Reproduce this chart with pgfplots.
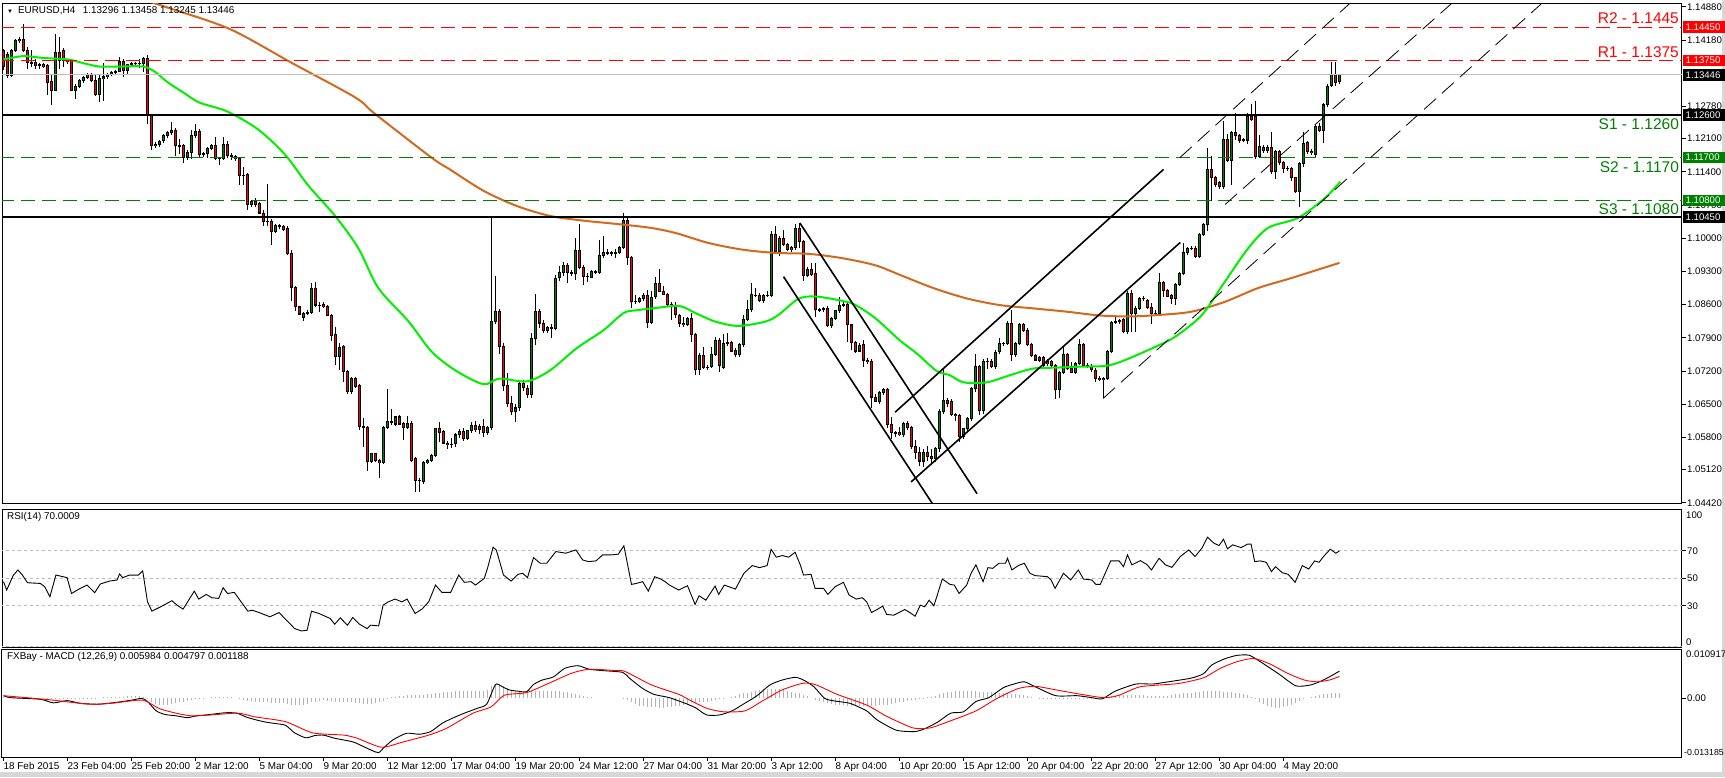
\documentclass[border=0pt]{standalone}
\usepackage{pgfplots}
\pgfplotsset{compat=1.18}
\usepackage{pgfplotstable}
\usepackage{fontspec}
\setmainfont{Liberation Sans}
\definecolor{upg}{RGB}{0,128,0}
\definecolor{dnr}{RGB}{255,0,0}
\definecolor{ma50}{RGB}{0,240,0}
\definecolor{ma200}{RGB}{210,105,30}
\definecolor{sgreen}{RGB}{0,128,0}
\definecolor{silverc}{RGB}{192,192,192}
\definecolor{frameg}{RGB}{215,215,215}

% candles in pips above 1.0000 : open high low close
\pgfplotstableread[row sep=\\]{
o h l c\\
1396 1400 1355 1362\\ 1388 1392 1338 1343\\ 1343 1400 1340 1396\\ 1396 1420 1392 1417\\ 1417 1424 1412 1420\\
1420 1451 1393 1396\\ 1396 1403 1356 1371\\ 1371 1396 1360 1370\\ 1370 1378 1356 1365\\ 1365 1370 1356 1366\\
1366 1370 1358 1361\\ 1364 1368 1301 1328\\ 1331 1345 1280 1312\\ 1312 1430 1310 1392\\ 1392 1424 1356 1375\\
1396 1402 1362 1375\\ 1375 1378 1368 1372\\ 1375 1378 1310 1312\\ 1312 1325 1293 1320\\ 1320 1336 1316 1333\\
1333 1342 1328 1338\\ 1338 1348 1335 1345\\ 1345 1348 1330 1333\\ 1333 1345 1300 1303\\ 1303 1345 1288 1336\\
1336 1369 1290 1340\\ 1340 1348 1336 1345\\ 1345 1352 1342 1350\\ 1350 1355 1347 1352\\ 1352 1382 1350 1373\\
1373 1378 1340 1354\\ 1354 1368 1345 1366\\ 1366 1372 1360 1368\\ 1368 1372 1364 1369\\ 1369 1378 1358 1368\\
1368 1383 1350 1380\\ 1380 1386 1240 1258\\ 1258 1262 1185 1195\\ 1195 1202 1190 1198\\ 1198 1208 1192 1205\\
1205 1220 1200 1216\\ 1216 1226 1212 1223\\ 1223 1246 1218 1228\\ 1228 1232 1174 1195\\ 1195 1210 1178 1195\\
1195 1198 1159 1170\\ 1170 1185 1165 1180\\ 1180 1228 1168 1216\\ 1216 1240 1212 1225\\ 1225 1230 1172 1176\\
1176 1182 1172 1178\\ 1178 1192 1170 1189\\ 1189 1198 1185 1195\\ 1195 1213 1165 1168\\ 1168 1172 1155 1169\\
1169 1213 1165 1197\\ 1197 1204 1170 1174\\ 1174 1180 1165 1172\\ 1172 1176 1162 1168\\ 1168 1172 1113 1132\\
1132 1150 1112 1133\\ 1134 1138 1060 1070\\ 1070 1080 1065 1077\\ 1077 1085 1066 1071\\ 1073 1076 1050 1053\\
1053 1060 1026 1036\\ 1036 1115 1026 1035\\ 1035 1040 986 1015\\ 1015 1030 1010 1026\\ 1026 1030 1020 1024\\
1024 1027 1016 1019\\ 1021 1025 965 967\\ 967 975 867 897\\ 897 900 846 855\\ 855 858 838 840\\
832 845 825 842\\ 842 848 838 843\\ 843 905 840 893\\ 893 907 855 859\\ 859 866 845 859\\
861 866 852 855\\ 857 860 835 837\\ 837 840 783 795\\ 797 812 732 751\\ 751 780 722 770\\
772 775 696 719\\ 719 722 672 677\\ 677 708 672 704\\ 704 708 684 687\\ 690 693 596 602\\
602 620 560 602\\ 600 604 509 529\\ 529 548 526 546\\ 546 548 528 531\\ 531 535 495 527\\
527 604 524 600\\ 600 683 598 613\\ 613 640 606 612\\ 608 626 604 623\\ 623 628 605 608\\
610 612 574 600\\ 600 625 598 610\\ 610 614 528 531\\ 535 538 465 488\\ 490 494 464 490\\
486 530 482 527\\ 527 535 524 531\\ 531 545 528 541\\ 541 600 538 598\\ 598 612 570 590\\
592 596 565 568\\ 568 572 556 564\\ 564 578 558 566\\ 566 590 560 585\\ 585 598 578 592\\
592 600 572 578\\ 578 596 574 594\\ 594 612 590 606\\ 606 614 592 596\\ 596 608 586 603\\
603 618 580 590\\ 590 604 585 600\\ 600 1045 596 825\\ 825 920 818 846\\ 846 850 755 772\\
772 778 677 690\\ 690 715 645 652\\ 652 668 628 634\\ 634 650 612 642\\ 642 698 636 694\\
694 700 678 684\\ 684 690 662 670\\ 670 800 664 789\\ 789 882 775 846\\ 846 850 810 821\\
821 828 800 806\\ 806 815 800 812\\ 812 818 790 810\\ 810 922 806 916\\ 916 942 910 927\\
927 950 920 942\\ 942 948 905 927\\ 927 932 920 926\\ 926 1001 912 975\\ 975 1030 935 939\\
939 944 902 920\\ 920 926 908 920\\ 918 932 915 929\\ 929 933 925 930\\ 927 996 925 963\\
963 1004 958 969\\ 969 978 964 970\\ 969 974 963 970\\ 970 978 958 969\\ 969 984 966 981\\
981 1054 978 1037\\ 1037 1045 943 960\\ 960 963 852 867\\ 867 880 862 867\\ 867 876 864 872\\
872 884 868 880\\ 880 890 810 822\\ 822 888 818 876\\ 876 918 872 904\\ 904 935 886 888\\
888 900 880 882\\ 882 885 858 860\\ 860 866 828 858\\ 858 865 832 838\\ 838 840 812 821\\
821 834 812 818\\ 818 834 815 831\\ 831 842 781 797\\ 797 800 712 722\\ 722 758 711 752\\
752 770 724 727\\ 727 732 722 728\\ 729 770 726 755\\ 755 792 752 784\\ 784 790 718 731\\
727 798 724 778\\ 778 800 772 780\\ 780 784 760 762\\ 764 768 750 754\\ 754 778 750 775\\
775 838 770 828\\ 828 870 825 849\\ 849 905 845 881\\ 880 896 876 880\\ 880 884 866 868\\
868 882 864 880\\ 880 889 875 879\\ 879 1015 876 1008\\ 1008 1025 968 972\\ 972 1004 962 1000\\
1000 1018 984 986\\ 986 990 972 976\\ 976 984 970 980\\ 980 1030 976 1020\\ 1020 1032 980 993\\
993 996 909 921\\ 921 940 918 935\\ 935 947 920 923\\ 926 947 833 849\\ 849 852 845 849\\
849 855 845 851\\ 851 856 813 815\\ 815 833 810 831\\ 831 849 828 847\\ 847 877 843 859\\
859 866 855 860\\ 860 864 782 817\\ 817 820 764 780\\ 780 783 758 762\\ 762 778 760 773\\
775 785 728 743\\ 743 748 735 740\\ 741 746 641 665\\ 665 672 654 656\\ 656 678 650 674\\
674 684 670 680\\ 680 684 600 607\\ 607 623 577 590\\ 590 594 580 590\\ 590 602 582 586\\
586 612 580 609\\ 609 614 595 600\\ 600 604 556 560\\ 560 575 535 548\\ 548 560 520 530\\
530 555 518 548\\ 548 562 530 540\\ 540 555 522 535\\ 535 560 528 556\\ 556 640 550 635\\
635 725 630 658\\ 658 662 645 651\\ 655 660 625 628\\ 628 632 615 625\\ 626 630 570 581\\
581 600 576 598\\ 598 623 594 620\\ 620 686 615 683\\ 683 755 676 729\\ 729 733 628 636\\
636 745 630 740\\ 740 748 725 741\\ 741 745 726 729\\ 729 765 725 760\\ 760 790 755 778\\
778 782 772 778\\ 778 825 775 820\\ 820 849 741 755\\ 755 782 750 778\\ 778 822 775 818\\
818 822 802 806\\ 806 810 772 775\\ 775 778 750 752\\ 752 755 740 743\\ 743 752 738 748\\
748 752 728 732\\ 735 745 730 740\\ 740 744 728 731\\ 731 735 660 681\\ 681 720 664 717\\
717 772 714 754\\ 754 758 722 725\\ 725 738 715 717\\ 717 738 714 735\\ 735 788 732 776\\
776 780 728 731\\ 731 736 726 730\\ 729 734 718 722\\ 722 726 697 704\\ 704 710 698 701\\
701 708 662 704\\ 704 765 700 761\\ 761 826 758 823\\ 823 834 820 824\\ 824 830 818 826\\
828 832 800 803\\ 803 888 797 884\\ 884 890 803 842\\ 842 858 803 852\\ 852 875 848 873\\
873 878 868 873\\ 868 872 850 854\\ 854 863 820 842\\ 842 848 835 842\\ 842 926 838 907\\
907 910 876 889\\ 889 892 875 877\\ 879 882 862 872\\ 872 905 859 903\\ 903 928 900 926\\
926 990 922 969\\ 969 982 965 979\\ 979 984 975 979\\ 979 983 958 962\\ 962 1010 958 1007\\
1007 1032 1004 1029\\ 1029 1190 1015 1145\\ 1145 1173 1078 1128\\ 1128 1132 1108 1113\\ 1117 1120 1103 1108\\
1108 1247 1104 1209\\ 1209 1220 1160 1163\\ 1163 1226 1113 1223\\ 1223 1265 1208 1216\\ 1216 1220 1200 1207\\
1207 1212 1202 1209\\ 1207 1265 1198 1256\\ 1256 1283 1248 1251\\ 1256 1290 1168 1173\\ 1173 1218 1170 1194\\
1192 1196 1180 1185\\ 1185 1196 1180 1192\\ 1192 1225 1135 1141\\ 1141 1186 1125 1182\\ 1182 1186 1155 1159\\
1159 1162 1138 1147\\ 1147 1152 1142 1147\\ 1147 1150 1121 1128\\ 1128 1130 1095 1098\\ 1098 1160 1065 1157\\
1157 1223 1150 1199\\ 1201 1206 1178 1183\\ 1183 1188 1175 1180\\ 1177 1238 1172 1235\\ 1235 1242 1225 1228\\
1228 1285 1200 1281\\ 1281 1325 1276 1321\\ 1321 1371 1318 1345\\ 1345 1371 1322 1329\\ 1330 1346 1325 1345\\
}\candles

% MACD histogram, units of 0.001, one value per bar
\pgfplotstableread[row sep=\\]{
h\\
0.2\\0.2\\0.2\\0.2\\0.2\\0.1\\0.1\\0.1\\0.0\\0.0\\
-0.1\\-0.2\\-0.3\\-0.2\\-0.1\\-0.1\\-0.2\\-0.2\\-0.3\\-0.2\\
-0.2\\-0.2\\-0.1\\-0.1\\0.0\\0.1\\0.2\\0.2\\0.3\\0.3\\
0.3\\0.4\\0.4\\0.4\\0.4\\0.3\\-0.3\\-0.9\\-1.3\\-1.6\\
-1.6\\-1.5\\-1.3\\-1.2\\-1.0\\-0.9\\-0.7\\-0.5\\-0.3\\-0.2\\
-0.1\\0.0\\0.1\\0.1\\0.2\\0.2\\0.2\\0.1\\0.0\\-0.2\\
-0.4\\-0.6\\-0.7\\-0.8\\-0.9\\-1.0\\-1.0\\-1.1\\-1.1\\-1.2\\
-1.2\\-1.3\\-1.5\\-1.6\\-1.6\\-1.6\\-1.3\\-1.0\\-0.8\\-0.6\\
-0.5\\-0.6\\-0.7\\-0.8\\-0.8\\-0.9\\-1.0\\-1.0\\-1.1\\-1.2\\
-1.3\\-1.3\\-1.3\\-1.2\\-1.0\\-0.6\\-0.2\\0.1\\0.3\\0.4\\
0.5\\0.6\\0.6\\0.6\\0.6\\0.7\\0.8\\0.9\\1.1\\1.2\\
1.3\\1.4\\1.4\\1.5\\1.5\\1.5\\1.5\\1.6\\1.6\\1.6\\
1.6\\1.8\\2.6\\3.0\\2.9\\2.6\\2.2\\1.8\\1.6\\1.5\\
1.4\\1.4\\1.5\\1.5\\1.6\\1.6\\1.6\\1.5\\1.5\\1.5\\
1.4\\1.3\\1.1\\0.9\\0.6\\0.4\\0.2\\0.1\\0.0\\0.0\\
0.0\\0.0\\0.0\\0.0\\0.0\\-0.1\\-0.5\\-1.0\\-1.4\\-1.7\\
-1.9\\-2.0\\-2.1\\-2.1\\-2.2\\-2.2\\-2.1\\-2.0\\-1.9\\-1.7\\
-1.5\\-1.3\\-1.2\\-1.1\\-1.0\\-0.9\\-0.8\\-0.6\\-0.4\\-0.3\\
-0.2\\0.0\\0.2\\0.5\\0.8\\1.0\\1.2\\1.4\\1.6\\1.8\\
1.9\\2.0\\2.0\\2.0\\1.9\\1.8\\1.6\\1.4\\1.2\\1.0\\
0.7\\0.4\\0.0\\-0.4\\-0.7\\-1.0\\-1.2\\-1.4\\-1.5\\-1.6\\
-1.6\\-1.7\\-1.7\\-1.8\\-1.8\\-1.8\\-1.8\\-1.7\\-1.7\\-1.6\\
-1.6\\-1.5\\-1.4\\-1.2\\-1.0\\-0.8\\-0.6\\-0.5\\-0.4\\-0.3\\
-0.1\\0.1\\0.3\\0.5\\0.8\\1.1\\1.3\\1.4\\1.5\\1.5\\
1.5\\1.5\\1.5\\1.5\\1.4\\1.4\\1.4\\1.3\\1.3\\1.2\\
1.1\\1.0\\0.9\\0.8\\0.7\\0.6\\0.4\\0.2\\0.0\\-0.1\\
-0.2\\-0.3\\-0.3\\-0.3\\-0.3\\-0.3\\-0.3\\-0.3\\-0.2\\-0.2\\
-0.2\\-0.2\\-0.2\\-0.1\\-0.1\\-0.1\\0.2\\0.4\\0.5\\0.6\\
0.6\\0.6\\0.6\\0.6\\0.6\\0.6\\0.5\\0.5\\0.5\\0.5\\
0.4\\0.5\\0.6\\0.8\\0.9\\1.0\\1.1\\1.2\\1.3\\1.4\\
1.5\\1.5\\1.5\\1.5\\1.5\\1.4\\1.4\\1.3\\1.2\\1.1\\
0.9\\0.6\\0.2\\-0.3\\-0.8\\-1.3\\-1.7\\-2.0\\-2.2\\-2.2\\
-2.1\\-1.9\\-1.6\\-1.2\\-0.7\\-0.3\\0.0\\0.3\\0.5\\0.7\\
0.8\\0.9\\1.0\\1.1\\1.188\\
}\hist

\pgfplotsset{
  mtpanel/.style={
    scale only axis, width=1680pt, anchor=north west,
    xmin=-0.375, xmax=419.625,
    axis line style={black, line width=1pt},
    xtick=\empty, ytick pos=right, yticklabel pos=right,
    tick align=outside, major tick length=4pt,
    tick style={black, line width=0.8pt},
    yticklabel style={font=\fontsize{9.6}{10}\selectfont, inner sep=1pt},
    scaled ticks=false, clip mode=individual,
  },
  candlewick/.style={draw=none, forget plot, error bars/.cd, y dir=both, y explicit, error mark=none,
    error bar style={draw=black, line width=1pt}},
}
\newcommand{\lbl}{\fontsize{9.6}{10}\selectfont}
\newcommand{\hdr}{\fontsize{9.9}{10.5}\selectfont}
\tikzset{pbox/.style={anchor=west, fill=#1, text=white, font=\lbl, inner xsep=2.5pt, inner ysep=0pt, text width=36.5pt, minimum height=11.5pt, xshift=1pt}}

\begin{document}
\begin{tikzpicture}[x=1pt,y=1pt]
\useasboundingbox (0,0) rectangle (1725,-777);
\fill[white] (0,0) rectangle (1725,-777);
\fill[frameg] (0,-772) rectangle (1725,-777);
\fill[frameg] (1722,0) rectangle (1725,-777);

% ================= PRICE PANEL =================
\begin{axis}[mtpanel, at={(2pt,-3pt)}, height=500pt,
  ymin=441.5, ymax=1496,
  ytick={442,512,580,650,720,790,860,930,1000,1070,1140,1210,1278,1418,1488},
  yticklabels={1.04420,1.05120,1.05800,1.06500,1.07200,1.07900,1.08600,1.09300,1.10000,1.10700,1.11400,1.12100,1.12780,1.14180,1.14880}]
% wicks
\addplot[candlewick] table[x expr=\coordindex, y expr={(\thisrow{h}+\thisrow{l})/2}, y error expr={(\thisrow{h}-\thisrow{l})/2}] {\candles};
% body outlines
\addplot[draw=none, forget plot, error bars/.cd, y dir=both, y explicit, error mark=none,
    error bar style={draw=black, line width=3.4pt}]
  table[x expr=\coordindex, y expr={(\thisrow{o}+\thisrow{c})/2}, y error expr={abs(\thisrow{c}-\thisrow{o})/2+1}] {\candles};
% bullish bodies
\addplot[draw=none, forget plot, restrict y to domain=0:2000, error bars/.cd, y dir=both, y explicit, error mark=none,
    error bar style={draw=upg, line width=1.5pt}]
  table[x expr=\coordindex, y expr={(\thisrow{o}+\thisrow{c})/2+5000*(\thisrow{c}<\thisrow{o})}, y error expr={max(abs(\thisrow{c}-\thisrow{o})/2-1.2,0)}] {\candles};
% bearish bodies
\addplot[draw=none, forget plot, restrict y to domain=0:2000, error bars/.cd, y dir=both, y explicit, error mark=none,
    error bar style={draw=dnr, line width=1.5pt}]
  table[x expr=\coordindex, y expr={(\thisrow{o}+\thisrow{c})/2+5000*(\thisrow{c}>=\thisrow{o})}, y error expr={max(abs(\thisrow{c}-\thisrow{o})/2-1.2,0)}] {\candles};

% moving averages
\addplot[ma200, line width=2pt, smooth] coordinates {
(25,1530) (40.8,1487) (56.6,1441) (72,1370) (87.9,1297) (92.9,1262) (107,1170) (111.6,1145) (120,1100)
(128.3,1068) (136.6,1047) (145,1037) (153.3,1030) (161.6,1022) (168,1011) (176.2,990) (184.6,976)
(192.9,969) (201.2,967) (209.6,958) (217.9,943) (224,923) (232.4,895) (240.8,873) (249,859) (257.4,852)
(265.8,845) (274.1,837) (281.6,835) (288.7,838) (297,845) (305.4,866) (313.7,895) (322,916) (334,948)};
\addplot[ma50, line width=2pt, smooth] coordinates {
(0,1377) (5,1384) (10,1380) (16,1377) (20,1369) (24,1362) (29,1362) (35,1362) (38,1350) (41,1329)
(45,1307) (49,1286) (56,1267) (63.7,1229) (70.4,1176) (76.2,1111) (82.9,1047) (88.7,979) (93.7,895)
(101.2,825) (107,761) (113,721) (120,692) (124,704) (130.8,698) (136.6,721) (143.3,768) (150,806)
(155,842) (158.3,848) (163.3,853) (169,857) (173,842) (178,824) (183.7,815) (190.4,824) (193.7,838)
(198.7,872) (203,877) (209.6,868) (213,859) (218,831) (224,785) (228.3,757) (233.3,720) (236.6,711)
(240,696) (245.8,696) (251.6,711) (257.4,725) (263.3,727) (269,729) (275.8,731) (280.4,743) (288,771)
(292.9,792) (299.6,838) (305.4,909) (311.2,979) (316.2,1022) (323.7,1043) (330.4,1085) (334.2,1119)};

% horizontal levels
\addplot[silverc, line width=1pt] coordinates {(-1,1344.6) (421,1344.6)};
\addplot[dnr, line width=1pt, dash pattern=on 14pt off 7pt] coordinates {(-1,1445) (421,1445)};
\addplot[dnr, line width=1pt, dash pattern=on 14pt off 7pt] coordinates {(-1,1375) (421,1375)};
\addplot[sgreen, line width=1pt, dash pattern=on 14pt off 7pt] coordinates {(-1,1170) (421,1170)};
\addplot[sgreen, line width=1pt, dash pattern=on 14pt off 7pt] coordinates {(-1,1080) (421,1080)};
\addplot[black, line width=2pt] coordinates {(-1,1260) (421,1260)};
\addplot[black, line width=2pt] coordinates {(-1,1045) (421,1045)};

% channels
\addplot[black, line width=1.6pt] coordinates {(199.1,1032) (243.4,461)};
\addplot[black, line width=1.6pt] coordinates {(195,919) (232.4,438)};
\addplot[black, line width=1.6pt] coordinates {(222.9,633) (290,1145)};
\addplot[black, line width=1.6pt] coordinates {(226.9,486) (294.2,991)};
\addplot[black, line width=0.8pt, dash pattern=on 16pt off 8pt] coordinates {(294.1,1170) (338,1506)};
\addplot[black, line width=0.8pt, dash pattern=on 16pt off 8pt] coordinates {(305.4,1071) (363.5,1506)};
\addplot[black, line width=0.8pt, dash pattern=on 16pt off 8pt] coordinates {(274.9,662) (386,1506)};

% level texts
\node[anchor=base east, inner sep=0pt, text=dnr, font=\fontsize{15.5}{16}\selectfont, yshift=4pt] at (axis cs:418.9,1445) {R2 - 1.1445};
\node[anchor=base east, inner sep=0pt, text=dnr, font=\fontsize{15.5}{16}\selectfont, yshift=3pt] at (axis cs:418.9,1375) {R1 - 1.1375};
\node[anchor=base east, inner sep=0pt, text=sgreen, font=\fontsize{15.5}{16}\selectfont, yshift=-15pt] at (axis cs:418.9,1260) {S1 - 1.1260};
\node[anchor=base east, inner sep=0pt, text=sgreen, font=\fontsize{15.5}{16}\selectfont, yshift=-15pt] at (axis cs:418.9,1170) {S2 - 1.1170};
\node[anchor=base east, inner sep=0pt, text=sgreen, font=\fontsize{15.5}{16}\selectfont, yshift=-14pt] at (axis cs:418.9,1080) {S3 - 1.1080};

% price boxes on the scale
\node[pbox=dnr] at (axis cs:419.625,1445) {1.14450};
\node[pbox=dnr] at (axis cs:419.625,1375) {1.13750};
\node[pbox=black] at (axis cs:419.625,1344.6) {1.13446};
\node[pbox=black] at (axis cs:419.625,1260) {1.12600};
\node[pbox=sgreen] at (axis cs:419.625,1170) {1.11700};
\node[pbox=sgreen] at (axis cs:419.625,1080) {1.10800};
\node[pbox=black] at (axis cs:419.625,1045) {1.10450};

\node[anchor=north west, font=\hdr, inner sep=0pt, xshift=5pt, yshift=-3pt] at (rel axis cs:0,1) {{\fontsize{6}{6}\selectfont ▼}\enspace EURUSD,H4\enspace\ 1.13296 1.13458 1.13245 1.13446};
\end{axis}

% ================= RSI PANEL =================
\begin{axis}[mtpanel, at={(2pt,-509pt)}, height=138pt,
  ymin=0, ymax=100.5, ytick={30,50,70}, yticklabels={30,50,70}]
\addplot[gray!55, line width=0.8pt, dash pattern=on 3pt off 3pt] coordinates {(-1,70) (421,70)};
\addplot[gray!55, line width=0.8pt, dash pattern=on 3pt off 3pt] coordinates {(-1,50) (421,50)};
\addplot[gray!55, line width=0.8pt, dash pattern=on 3pt off 3pt] coordinates {(-1,30) (421,30)};
\addplot[gray!55, line width=0.8pt, dash pattern=on 3pt off 3pt] coordinates {(-1,0.6) (421,0.6)};
\addplot[black, line width=0.9pt] coordinates {
(0,47.6) (0.8,41.5) (2.4,52) (3.6,56.1) (4.7,52.5) (6,46.8) (9.2,46.3) (10.3,43.9) (11.6,36.6) (13.1,52.4)
(15.9,50.5) (17,39) (19.2,42.7) (20.9,45.1) (22.8,39.5) (24.2,45.9) (26.5,48) (28.4,48.8) (29,53.2) (29.8,50.5)
(31.5,52.4) (33.7,52.4) (34.8,55.4) (36,32.9) (37.1,26.1) (39.3,29.3) (42.1,33.7) (43.4,30.5) (44.9,27.6)
(47.7,40.7) (48.8,34.9) (50.7,38.3) (52.1,35.9) (53.8,35.4) (54.9,43.2) (56,39) (57.7,39.8) (59.4,32.9)
(61.1,26.1) (62.2,26.8) (63.9,25.1) (66.6,22) (68.9,25.1) (70.5,20.2) (72.8,13.4) (74.5,11.7) (75.9,12.2)
(77,26.1) (78.9,24.4) (81.7,20.7) (82.8,16.6) (84.2,21.2) (86,15.9) (87.3,21.5) (89,16.6) (90.9,13.4)
(91.8,15.9) (93.8,15.4) (94.9,30.5) (96.2,32.9) (97.9,34.9) (99.6,32.9) (100.9,34.9) (102.9,24.4)
(104.6,27.6) (106.3,32.9) (108,45.1) (109.6,39.8) (111.8,39.8) (113.8,52.4) (115.2,47.1) (116.9,47.6)
(118,45.1) (120.2,50) (121,57.3) (122.4,72.7) (123.2,70.7) (125,52.4) (126.9,48) (128.6,52.9) (129.8,53.7)
(131,50.5) (132.5,65.1) (134.2,61) (135.8,61) (138.1,69.5) (140.6,68.3) (141.8,69.5) (143.1,70.7)
(144.8,63.4) (146.2,62.2) (148.1,62.7) (149.8,67.1) (152,67.1) (153.7,67.6) (155.1,73.7) (157,45.6)
(158.2,46.3) (159.8,47.6) (161.2,40.7) (162.8,51.2) (164.3,49.5) (165.4,47.6) (166.5,45.1) (168.8,41.5)
(171,44.6) (172.9,31) (173.9,37.3) (175.6,34.1) (177.9,44.4) (178.8,38.3) (180.2,45.1) (183,42.2)
(185.1,53.7) (187.2,59.3) (189,57.8) (190.9,59.3) (191.9,71.2) (193.2,65.4) (194.7,66.6) (196.3,65.4)
(197.9,69) (199.2,59.8) (200,52.4) (201.9,52.9) (202.9,42.7) (205,42.7) (206.1,38.3) (207.9,43.9)
(210,47.1) (211.4,37.8) (213.2,34.9) (214.7,35.9) (215.8,32.9) (217,25.1) (218.4,27.3) (219.8,29.8)
(220.8,23.7) (222.6,23.2) (225.3,27.3) (226.6,25.1) (227.9,22.4) (229.2,30.5) (230.3,29.3) (231.4,34.1)
(232.6,30) (234.7,49.5) (236.6,45.6) (237.7,45.1) (238.9,39) (240.8,45.1) (241.9,53.7) (243.1,59.8)
(244.9,47.6) (246.1,57.8) (247.3,57.3) (248.9,61) (250.5,61) (251,64.6) (252.1,56.1) (253.7,59.3)
(255.2,61) (256.6,53.7) (257.9,52) (261,51.2) (261.9,48.8) (262.9,42.7) (265,53.7) (266.8,48.8)
(268.7,56.1) (270,49.5) (272.1,48.8) (273.1,45.6) (274.2,45.6) (276.8,62.7) (278.9,62.7) (280,58.5)
(281,67.1) (282.1,59.8) (284.2,62.9) (285.8,60.2) (287,56.1) (288.9,64.6) (290.5,59.8) (292.1,58)
(294.2,65.9) (296.3,70.7) (297.9,65.9) (299.7,72.4) (301,80) (302.6,75.6) (303.9,73.9) (305,78.5)
(306,71.5) (307.3,74.4) (309.4,72.4) (311,74.9) (311.9,74.9) (312.8,62.2) (314.2,62.7) (315.7,61.7)
(317,54.9) (318,58.5) (319.7,54.1) (321.2,52.9) (322.9,47.1) (324.7,59.3) (326.3,56.8) (327.8,62.7)
(328.9,61.7) (330,65.9) (331.7,71.2) (333.1,68.3) (334,70)};
\node[anchor=north west, font=\lbl, inner sep=1pt, xshift=3pt, yshift=-2pt] at (rel axis cs:1,1) {100};
\node[anchor=south west, font=\lbl, inner sep=1pt, xshift=3pt, yshift=0pt] at (rel axis cs:1,0) {0};
\node[anchor=north west, font=\hdr, inner sep=0pt, xshift=5pt, yshift=-3pt] at (rel axis cs:0,1) {RSI(14) 70.0009};
\end{axis}

% ================= MACD PANEL =================
\begin{axis}[mtpanel, at={(2pt,-649pt)}, height=108pt,
  ymin=-13.185, ymax=10.917, ytick={0}, yticklabels={0.00},
  xtick={0,16,32,48,64,80,96,112,128,144,160,176,192,208,224,240,256,272,288,304,320},
  xticklabels={18 Feb 2015,23 Feb 04:00,25 Feb 20:00,2 Mar 12:00,5 Mar 04:00,9 Mar 20:00,12 Mar 12:00,17 Mar 04:00,19 Mar 20:00,24 Mar 12:00,27 Mar 04:00,31 Mar 20:00,3 Apr 12:00,8 Apr 04:00,10 Apr 20:00,15 Apr 12:00,20 Apr 04:00,22 Apr 20:00,27 Apr 12:00,30 Apr 04:00,4 May 20:00},
  xtick pos=left, xticklabel style={anchor=north west, font=\hdr, inner sep=0pt, xshift=0pt, yshift=-1pt}]
\addplot[ycomb, gray!60, line width=1pt] table[x expr=\coordindex, y=h] {\hist};
\addplot[black, line width=0.9pt, smooth, tension=0.4] coordinates {
(0,0.5) (1.9,0.05) (9.2,-0.3) (12.5,-1.1) (15.9,-0.6) (19.2,-1.2) (23.7,-1.4) (28.1,-1.0) (32,-0.5) (34.6,-0.1)
(36,-0.8) (38.2,-2.9) (40.4,-3.7) (43.2,-4.0) (46,-4.4) (48.2,-4.0) (51.6,-3.7) (55.5,-3.3) (58.3,-3.4)
(61.1,-4.4) (65,-5.3) (67.8,-5.7) (70.5,-6.1) (72.8,-7.8) (75.6,-8.9) (77.8,-8.4) (80,-8.3) (82.8,-9.0)
(87.3,-9.8) (90.1,-10.9) (92.3,-11.8) (93.8,-12.2) (95.1,-11.1) (97.3,-9.4) (100.7,-7.9) (104,-8.1)
(106.8,-7.5) (109.6,-5.7) (111.8,-4.7) (115.2,-3.4) (118.5,-2.3) (120.8,-1.4) (123,3.0) (124.7,2.5)
(126.4,1.8) (128.6,1.5) (130.8,1.4) (132.5,3.0) (134.7,4.0) (137.5,4.7) (140.3,6.6) (143.6,7.2) (146.4,6.4)
(149.8,6.1) (154.8,5.7) (156.5,4.4) (159.8,2.1) (162.6,0.8) (166.5,0.05) (171,-1.4) (173.2,-2.3) (175.8,-3.8)
(179,-3.8) (182.1,-2.9) (185.3,-1.2) (188.4,0.5) (191.6,2.9) (194.7,4.0) (197.9,4.6) (200,4.0) (202.6,2.5)
(205.3,-0.1) (207.9,-0.7) (211.6,-1.2) (215.8,-2.9) (218.4,-4.9) (223.2,-7.2) (227.9,-7.5) (230.5,-6.8)
(233.7,-5.3) (236.8,-3.4) (240,-3.1) (243.1,-0.8) (246.3,0.05) (250,2.3) (252.6,3.1) (255.2,3.6) (257.9,2.5)
(263.1,0.5) (268.4,0.5) (272.1,0.05) (274.7,-0.2) (277.9,1.5) (283.1,3.1) (287.3,3.1) (290.5,3.5) (296.8,4.4)
(300,5.4) (302,7.3) (305.2,8.7) (308.4,9.5) (311.5,9.5) (314.7,7.8) (318.9,5.3) (323.1,2.7) (326.8,2.9)
(330,4.0) (334,5.98)};
\addplot[dnr, line width=0.9pt, smooth, tension=0.4] coordinates {
(0,0.5) (5.8,0.05) (12.5,-0.5) (21.4,-1.4) (27,-1.2) (34.8,-0.5) (39.3,-2.5) (47.1,-4.0) (58.3,-3.4)
(62.7,-4.2) (70.5,-5.3) (77.3,-7.8) (85.1,-8.3) (88.4,-9.0) (94.5,-11.0) (99.6,-9.9) (106.3,-8.3)
(110.7,-6.8) (117.4,-3.4) (121.9,-2.0) (125.2,0.6) (130.8,1.2) (136.4,3.3) (142,5.5) (146.4,6.4)
(153.1,6.1) (155.4,5.9) (162,2.9) (168.8,0.8) (171.6,-0.5) (175.8,-2.3) (180,-3.1) (185.3,-2.9)
(189.5,-0.8) (194.7,1.8) (200,3.3) (203.2,2.9) (208.4,0.8) (215.8,-1.6) (221,-4.2) (227.4,-6.7)
(231.6,-6.7) (236.8,-5.1) (243.1,-2.9) (248.4,-0.1) (253.7,2.1) (257.9,2.6) (263.1,1.8) (269.4,0.8)
(275.2,0.05) (278.9,0.6) (284.2,2.5) (293.6,3.2) (300,4.5) (304.2,6.6) (308.4,8.1) (312.6,8.8)
(316.8,7.5) (321,5.5) (325.2,4.0) (328.4,3.6) (331.5,4.0) (334,4.8)};
\node[anchor=north west, font=\lbl, inner sep=1pt, xshift=3pt, yshift=-1pt] at (rel axis cs:1,1) {0.010917};
\node[anchor=south west, font=\fontsize{8.8}{9}\selectfont, inner sep=0.5pt, xshift=1.5pt, yshift=1pt] at (rel axis cs:1,0) {-0.013185};
\node[anchor=north west, font=\hdr, inner sep=0pt, xshift=5pt, yshift=-3pt] at (rel axis cs:0,1) {FXBay - MACD (12,26,9) 0.005984 0.004797 0.001188};
\end{axis}
\end{tikzpicture}
\end{document}
